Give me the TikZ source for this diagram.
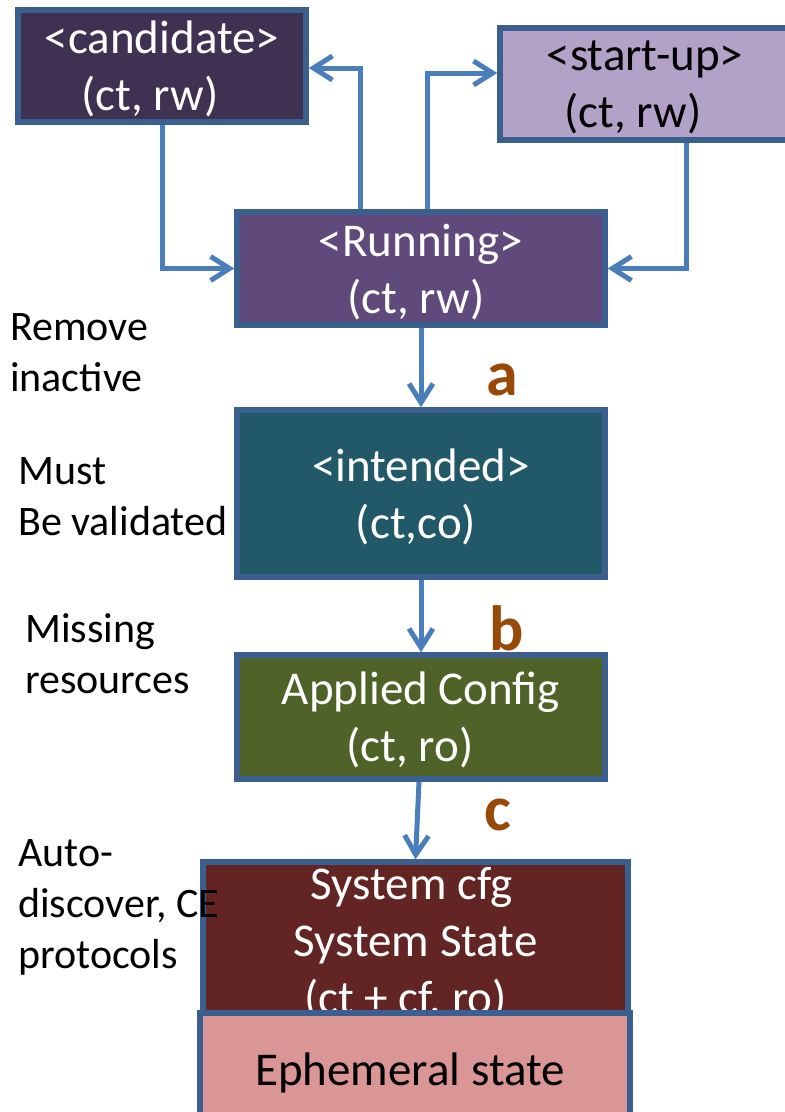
\documentclass[tikz,border=0pt]{standalone}
\usepackage{fontspec}
\setmainfont{Carlito}
\usetikzlibrary{arrows.meta}
\definecolor{edgeblue}{HTML}{3B6090}
\definecolor{linkblue}{HTML}{4A7EBB}
\definecolor{letterbrown}{HTML}{984807}
\definecolor{candfill}{HTML}{3F3151}
\definecolor{runfill}{HTML}{604A7B}
\definecolor{startfill}{HTML}{B3A2C7}
\definecolor{intdfill}{HTML}{215968}
\definecolor{applfill}{HTML}{4F6228}
\definecolor{sysfill}{HTML}{632523}
\definecolor{ephfill}{HTML}{D99694}
\newcommand{\padr}[1]{\hspace*{#1pt}}
\tikzset{
  store/.style={draw=edgeblue, line width=5.5pt, align=center, inner sep=0pt,
    text depth=0pt, text=white, font=\fontsize{47}{57}\selectfont},
  conn/.style={draw=linkblue, line width=5pt,
    -{Straight Barb[length=19pt,width=24pt]}},
  sidenote/.style={anchor=west, align=left, inner sep=0pt,
    font=\fontsize{42}{51}\selectfont},
  steptag/.style={text=letterbrown, font=\fontsize{64}{70}\selectfont\bfseries}
}
\begin{document}
\begin{tikzpicture}[x=1pt, y=-1pt]
  \useasboundingbox (0,0) rectangle (785,1112);
  \begin{scope}
  \clip (0,0) rectangle (785,1112);
  % datastores
  \node[store, fill=candfill, minimum width=288pt, minimum height=112pt] (cand) at (162,66) {<candidate>\\(ct, rw)\padr{24}};
  \node[store, fill=startfill, text=black, minimum width=290pt, minimum height=112pt] (start) at (645,84) {<start-up>\\(ct, rw)\padr{24}};
  \node[store, fill=runfill, minimum width=368pt, minimum height=113pt] (run) at (421,268.5) {<Running>\\(ct, rw)\padr{10}};
  \node[store, fill=intdfill, minimum width=368pt, minimum height=167pt] (intd) at (421,493.5) {<intended>\\(ct,co)\padr{10}};
  \node[store, fill=applfill, minimum width=368pt, minimum height=124pt] (appl) at (421,717) {Applied Config\\(ct, ro)\padr{22}};
  \node[store, fill=sysfill, minimum width=425pt, minimum height=156pt] (sys) at (415.5,940) {System cfg\padr{8}\\System State\\(ct + cf, ro)\padr{20}};
  \node[store, fill=ephfill, text=black, minimum width=430pt, minimum height=112pt] (eph) at (415,1069) {Ephemeral state\padr{10}};
  % connectors
  \draw[conn] (cand.south) |- (run.west);
  \draw[conn] ([xshift=-61pt]run.north) |- ([yshift=-2pt]cand.east);
  \draw[conn] ([xshift=6pt]run.north) |- ([yshift=11pt]start.west);
  \draw[conn] ([xshift=41pt]start.south) |- (run.east);
  \draw[conn] (run.south) -- (intd.north);
  \draw[conn] (intd.south) -- (appl.north);
  \draw[conn] ([xshift=-2pt]appl.south) -- (sys.north);
  \end{scope}
  % side notes
  \node[sidenote] (rm) at (10,353) {Remove\\inactive};
  \node[sidenote] (mv) at (18,497) {Must\\Be validated};
  \node[sidenote] (mr) at (25,654) {Missing\\resources};
  \node[sidenote] (ad) at (18,907) {Auto-\\discover, CE\\protocols};
  % step letters
  \node[steptag] (ta) at (502,380) {a};
  \node[steptag] (tb) at (507,628) {b};
  \node[steptag] (tc) at (498,815) {c};
\end{tikzpicture}
\end{document}
